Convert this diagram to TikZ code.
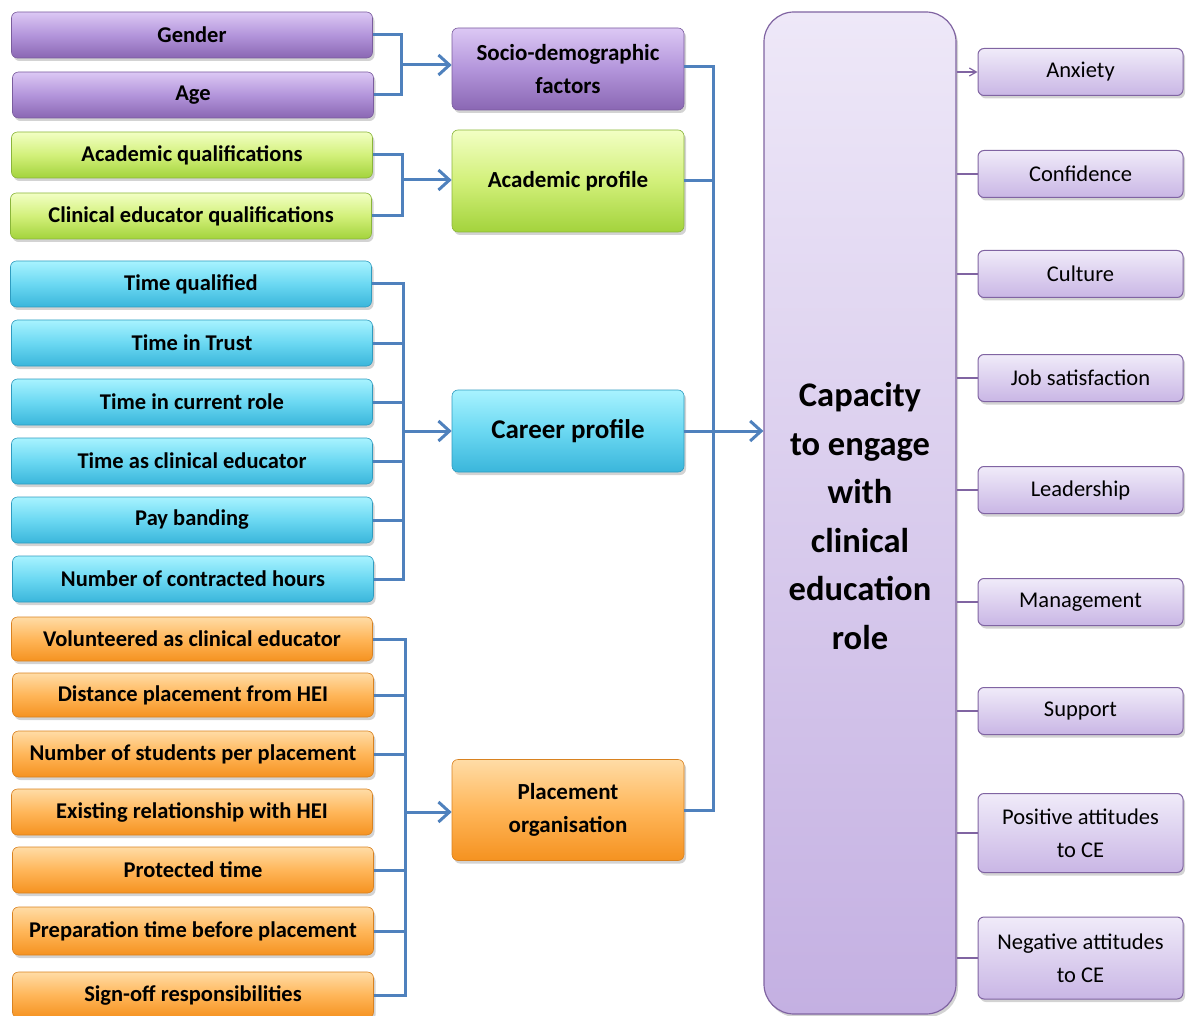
\documentclass[tikz,border=0pt]{standalone}
\usepackage{fontspec}
\setmainfont{Carlito}
\usetikzlibrary{shadows,arrows.meta}

\definecolor{purpT}{HTML}{DCC8F4}
\definecolor{purpM}{HTML}{B395DB}
\definecolor{purpB}{HTML}{8A67B3}
\definecolor{purpD}{HTML}{7A5C9E}
\definecolor{greenT}{HTML}{F2FFC4}
\definecolor{greenM}{HTML}{D2F07A}
\definecolor{greenB}{HTML}{A3D33C}
\definecolor{greenD}{HTML}{8AB53A}
\definecolor{cyanT}{HTML}{A8F3FF}
\definecolor{cyanM}{HTML}{6BD8F2}
\definecolor{cyanB}{HTML}{3AB6DB}
\definecolor{cyanD}{HTML}{2F9CC0}
\definecolor{orT}{HTML}{FFDCA6}
\definecolor{orM}{HTML}{FFB659}
\definecolor{orB}{HTML}{F59220}
\definecolor{orD}{HTML}{D98220}
\definecolor{lavT}{HTML}{F0EBF9}
\definecolor{lavB}{HTML}{C9B6E5}
\definecolor{lavD}{HTML}{8064A2}
\definecolor{capT}{HTML}{EEE8F8}
\definecolor{capB}{HTML}{C4B0E2}
\definecolor{link}{HTML}{4F81BD}

\tikzset{
  box/.style={rounded corners=6pt, align=center, text=black, inner sep=2pt,
    drop shadow={opacity=0.35, shadow xshift=2pt, shadow yshift=-3pt}},
  leftbox/.style={box, minimum width=361pt, minimum height=46pt,
    font=\fontsize{22.5}{24}\selectfont\bfseries},
  midbox/.style={box, minimum width=232pt, font=\fontsize{23}{33}\selectfont\bfseries},
  rightbox/.style={box, minimum width=205pt, draw=lavD, line width=1pt,
    top color=lavT, bottom color=lavB, font=\fontsize{22.5}{33}\selectfont},
  purp/.style={draw=purpD, line width=0.6pt, top color=purpT, bottom color=purpB, middle color=purpM},
  grn/.style={draw=greenD, line width=0.6pt, top color=greenT, bottom color=greenB, middle color=greenM},
  cyn/.style={draw=cyanD, line width=0.6pt, top color=cyanT, bottom color=cyanB, middle color=cyanM},
  org/.style={draw=orD, line width=0.6pt, top color=orT, bottom color=orB, middle color=orM},
  conn/.style={draw=link, line width=3pt},
  connarrow/.style={conn, -{Straight Barb[length=11pt,width=20pt,line width=3pt]}},
  outlink/.style={draw=lavD, line width=1.2pt},
}

\begin{document}
\begin{tikzpicture}[x=1pt,y=-1pt]
\useasboundingbox (0,0) rectangle (1194,1016);

% input factors
\node[leftbox,purp] (gender) at (192,35) {Gender};
\node[leftbox,purp] (age) at (193,95) {Age};
\node[leftbox,grn] (acq) at (192,155) {Academic qualifications};
\node[leftbox,grn] (ceq) at (191,216) {Clinical educator qualifications};
\node[leftbox,cyn] (tq) at (191,284) {Time qualified};
\node[leftbox,cyn] (tt) at (192,343) {Time in Trust};
\node[leftbox,cyn] (tcr) at (192,402) {Time in current role};
\node[leftbox,cyn] (tce) at (192,461) {Time as clinical educator};
\node[leftbox,cyn] (pay) at (192,520) {Pay banding};
\node[leftbox,cyn] (nch) at (193,579) {Number of contracted hours};
\node[leftbox,org,minimum height=44pt] (vol) at (192,639) {Volunteered as clinical educator};
\node[leftbox,org,minimum height=44pt] (dist) at (193,695) {Distance placement from HEI};
\node[leftbox,org] (nst) at (193,754) {Number of students per placement};
\node[leftbox,org] (rel) at (192,812) {Existing relationship with HEI};
\node[leftbox,org] (prot) at (193,870) {Protected time};
\node[leftbox,org,minimum height=48pt] (prep) at (193,931) {Preparation time before placement};
\node[leftbox,org] (sign) at (193,995) {Sign-off responsibilities};

% grouped profiles
\node[midbox,purp,minimum height=82pt] (socio) at (568,69) {Socio-demographic\\factors};
\node[midbox,grn,minimum height=102pt] (acad) at (568,181) {Academic profile};
\node[midbox,cyn,minimum height=82pt,font=\fontsize{27}{30}\selectfont\bfseries] (career) at (568,431) {Career profile};
\node[midbox,org,minimum height=101pt] (place) at (568,810) {Placement\\organisation};

% central outcome
\node[box, rounded corners=30pt, minimum width=192pt, minimum height=1002pt,
      draw=lavD, line width=1.2pt, top color=capT, bottom color=capB] (cap) at (860,513) {};
\node[align=center, font=\fontsize{34.5}{48.5}\selectfont\bfseries] (captext) at (860,516)
  {Capacity\\to engage\\with\\clinical\\education\\role};

% outcome dimensions
\node[rightbox,minimum height=47pt] (anx) at (1080.5,72) {Anxiety};
\node[rightbox,minimum height=47pt] (conf) at (1080.5,174) {Confidence};
\node[rightbox,minimum height=47pt] (cult) at (1080.5,274) {Culture};
\node[rightbox,minimum height=47pt] (job) at (1080.5,378) {Job satisfaction};
\node[rightbox,minimum height=47pt] (lead) at (1080.5,490) {Leadership};
\node[rightbox,minimum height=47pt] (man) at (1080.5,602) {Management};
\node[rightbox,minimum height=47pt] (sup) at (1080.5,711) {Support};
\node[rightbox,minimum height=79pt] (pos) at (1080.5,833) {Positive attitudes\\to CE};
\node[rightbox,minimum height=82pt] (neg) at (1080.5,958) {Negative attitudes\\to CE};

% bracket junctions
\coordinate (jA) at (401,65);
\coordinate (jB) at (402,180);
\coordinate (jC) at (403,431);
\coordinate (jD) at (405,812);
\coordinate (bus) at (713,431);

\draw[conn] (gender.east) -| (jA);
\draw[conn] (age.east) -| (jA);
\draw[connarrow] (jA) -- (jA -| socio.west);

\draw[conn] (acq.east) -| (jB);
\draw[conn] (ceq.east) -| (jB);
\draw[connarrow] (jB) -- (jB -| acad.west);

\draw[conn] (tq.east) -| (jC);
\draw[conn] (nch.east) -| (jC);
\foreach \n in {tt,tcr,tce,pay} \draw[conn] (\n.east) -- (\n.east -| jC);
\draw[connarrow] (jC) -- (career.west);

\draw[conn] (vol.east) -| (jD);
\draw[conn] (sign.east) -| (jD);
\foreach \n in {dist,nst,prot,prep} \draw[conn] (\n.east) -- (\n.east -| jD);
\draw[connarrow] (jD) -- (jD -| place.west);

\draw[conn] ([yshift=2pt]socio.east) -| (bus);
\draw[conn] (place.east) -| (bus);
\draw[conn] (acad.east) -- (acad.east -| bus);
\draw[connarrow] (career.east) -- (career.east -| cap.west);

% links to the outcome dimensions
\draw[outlink, -{Straight Barb[length=7pt,width=8pt,line width=1.2pt]}] (anx.west -| cap.east) -- (anx.west);
\foreach \n in {conf,cult,job,lead,man,sup,pos,neg}
  \draw[outlink] (\n.west -| cap.east) -- (\n.west);
\end{tikzpicture}
\end{document}
